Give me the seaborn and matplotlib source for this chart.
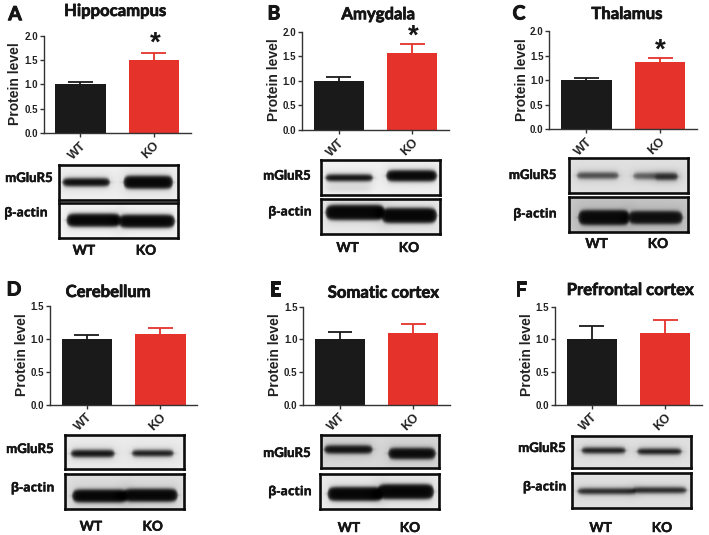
import numpy as np
import pandas as pd
import matplotlib
matplotlib.use("Agg")
import matplotlib.pyplot as plt
import matplotlib.patheffects as pe
from matplotlib.transforms import ScaledTranslation
import seaborn as sns

sns.set_theme(style="white")
plt.rcParams['font.family'] = ['Liberation Sans', 'DejaVu Sans']

W, H = 709, 535
groups = ["WT", "KO"]
regions = ["Hippocampus", "Amygdala", "Thalamus", "Cerebellum", "Somatic cortex", "Prefrontal cortex"]
letters = ["A", "B", "C", "D", "E", "F"]
wt_means = [1.0, 1.0, 1.0, 1.0, 1.0, 1.0]
ko_means = [1.5, 1.57, 1.37, 1.07, 1.09, 1.10]
wt_errs = [0.05, 0.08, 0.05, 0.06, 0.12, 0.20]
ko_errs = [0.15, 0.17, 0.08, 0.10, 0.14, 0.20]
y_maxes = [2.0, 2.0, 2.0, 1.5, 1.5, 1.5]
y_ticks_big = [0.0, 0.5, 1.0, 1.5, 2.0]
y_ticks_small = [0.0, 0.5, 1.0, 1.5]
significant = [True, True, True, False, False, False]

BLACK, RED, AXC = "#1b1a1a", "#e5332c", "#333333"
HEAD = ['Lato', 'DejaVu Sans']
CAP = 0.17

fig = plt.figure(figsize=(W / 100, H / 100), dpi=100, facecolor="white")


def axes_px(x0, y0, x1, y1, **kw):
    return fig.add_axes([x0 / W, 1 - y1 / H, (x1 - x0) / W, (y1 - y0) / H], **kw)


# pixel layout of each chart: left, top, right, baseline
frames = [(43.7, 35.7, 190.7, 133.3), (302, 31.7, 449, 130), (549.3, 31.3, 697, 129.3),
          (50, 306, 197.3, 404.7), (303.3, 306.7, 450, 404.7), (555, 306.7, 702, 404.7)]
ylab_x = [15.5, 274.5, 521.7, 22, 275, 527]

for i, frame in enumerate(frames):
    x0, top, x1, base = frame
    ax = axes_px(x0, top, x1, base)
    ax.patch.set_alpha(0)
    df = pd.DataFrame({"group": groups, "level": [wt_means[i], ko_means[i]]})
    sns.barplot(data=df, x="group", y="level", hue="group", palette=[BLACK, RED], hue_order=groups,
                width=0.685, saturation=1, errorbar=None, legend=False, ax=ax, linewidth=0)
    for k, (m, e, c) in enumerate([(wt_means[i], wt_errs[i], BLACK), (ko_means[i], ko_errs[i], RED)]):
        ax.vlines(k, m, m + e, color=c, linewidth=1.3, zorder=1)
        ax.hlines(m + e, k - CAP, k + CAP, color=c, linewidth=1.3, zorder=1)
    ax.set_xlim(-0.5, 1.5)
    ax.set_ylim(0, y_maxes[i])
    ax.set_yticks(y_ticks_big if y_maxes[i] == 2.0 else y_ticks_small)
    ax.set_yticklabels([f"{t:.1f}" for t in ax.get_yticks()], fontsize=7, fontweight="bold", color="#222222")
    ax.set_xticks([0, 1])
    ax.set_xticklabels(groups, rotation=45, ha="center", va="top",
                       fontsize=9, fontweight="bold", color="#222222")
    ax.tick_params(axis="both", length=3.2, width=1, color=AXC, pad=1, left=True, bottom=True)
    ax.tick_params(axis="x", pad=1.5)
    for lab in ax.get_xticklabels():
        lab.set_transform(lab.get_transform() + ScaledTranslation(-3 / 100, 0, fig.dpi_scale_trans))
    sns.despine(ax=ax)
    for s in ("left", "bottom"):
        ax.spines[s].set_color(AXC)
        ax.spines[s].set_linewidth(1)
    ax.set_xlabel("")
    ax.set_ylabel("")

overlay = axes_px(0, 0, W, H)
overlay.set_xlim(0, W)
overlay.set_ylim(H, 0)
overlay.axis("off")
overlay.patch.set_alpha(0)


def label(x, y, s, size=9.2, stroke=0.35, **kw):
    t = overlay.text(x, y, s, ha="center", va="center", fontsize=size, fontweight="bold",
                     family=kw.pop("family", HEAD), color="#151515", **kw)
    t.set_path_effects([pe.withStroke(linewidth=stroke, foreground="#151515")])


title_pos = [(115, 11), (378, 14.3), (626.7, 14), (108, 292), (383, 292.7), (630, 290)]
letter_pos = [(15, 14.7), (274, 14), (519, 14), (14, 290), (275, 290), (520.7, 290)]
mglu_pos = [(29, 178), (287, 175.7), (532.7, 175), (30, 449), (287, 453), (542, 448)]
actin_pos = [(26, 213), (290, 212), (535, 214), (32.7, 488), (290, 491.7), (544.7, 487)]
wt_pos = [(84, 250.7), (347.7, 248), (596.7, 244), (91, 526.7), (349, 528), (600.7, 528)]
ko_pos = [(146, 250.7), (409, 248), (658, 244), (152.7, 526.7), (410, 528), (662, 528)]
star_pos = [(155, 44), (413, 37), (660, 51)]

for i in range(6):
    label(*title_pos[i], regions[i], size=12, stroke=0.5)
    label(*letter_pos[i], letters[i], size=14, stroke=0.7)
    label(*mglu_pos[i], "mGluR5", size=9.5)
    label(*actin_pos[i], "β-actin", size=9, stroke=0.2, family=['Open Sans', 'DejaVu Sans'])
    label(*wt_pos[i], "WT", size=9.8)
    label(*ko_pos[i], "KO", size=9.8)
    overlay.text(ylab_x[i], frames[i][3] - 50, "Protein level", rotation=90, ha="center", va="center",
                 fontsize=10, fontweight="bold", color="#222222")
    if significant[i]:
        overlay.text(*star_pos[i], "*", ha="center", va="center", fontsize=20, fontweight="bold", color="#151515")


def blot(x0, y0, x1, y1, bg, bands):
    """Soft western-blot strip: bands are (xa, xb, yc, height, darkness) in figure pixels."""
    xs, ys = np.meshgrid(np.arange(x0, x1, 0.5), np.arange(y0, y1, 0.5))
    img = np.full(xs.shape, float(bg))
    for xa, xb, yc, h, d in bands:
        mid, half = (xa + xb) / 2, (xb - xa) / 2
        u = np.clip(np.abs(xs - mid) / half, 0, 1.3)
        hh = h / 2 * np.sqrt(np.clip(1 - u ** 10, 0, 1)) + 0.01
        core = 1 / (1 + np.exp((np.abs(ys - yc) - hh) / 1.0))
        core *= 1 / (1 + np.exp((np.abs(xs - mid) - half) / 1.2))
        halo = np.exp(-((ys - yc) / (h * 0.9 + 2)) ** 2) / (1 + np.exp((np.abs(xs - mid) - half - 2) / 3))
        img = img * (1 - d * core) - 0.08 * halo * (1 - core)
    a = axes_px(x0, y0, x1, y1)
    a.imshow(np.clip(img, 0, 1), cmap="gray", vmin=0, vmax=1, aspect="auto", interpolation="bilinear")
    a.set_xticks([])
    a.set_yticks([])
    a.grid(False)
    for s in a.spines.values():
        s.set_visible(True)
        s.set_linewidth(1.9)
        s.set_color("#0c0c0c")


blot(59, 165, 177.7, 200, 0.94, [(62, 110, 182, 8, .95), (123, 173, 182, 13, .97)])
blot(59, 203.3, 177.7, 237.7, 0.97, [(66, 121, 220, 13, .97), (118, 175, 221, 13, .97)])
blot(321, 159.7, 440, 195, 0.95, [(325, 373, 178, 6.5, .95), (385.7, 437, 176, 11, .97), (328, 368, 188.5, 2.5, .08)])
blot(321, 199, 440, 234.3, 0.93, [(325, 385, 213, 15, .97), (381, 437, 216, 15, .97)])
blot(569.3, 157.7, 688, 192.7, 0.88, [(576.7, 619, 175, 6, .68), (633, 678, 175.5, 6, .6), (655, 678, 176.5, 5, .6)])
blot(569.3, 196.7, 688, 231.7, 0.78, [(578, 630, 217, 15, .95), (628, 683, 217, 13, .93)])
blot(65.3, 435, 184, 469, 0.92, [(70.7, 115, 453.3, 7, .93), (131.7, 174, 453, 6, .9)])
blot(65.3, 474, 184, 508.7, 0.88, [(72, 128, 495.7, 13, .97), (123, 178, 495, 13, .97)])
blot(321.3, 435, 439.3, 468.3, 0.85, [(324, 373, 450, 8, .93), (388, 436, 454, 11, .95)])
blot(320, 474.3, 438.7, 509.3, 0.93, [(327, 383, 494, 14, .97), (377, 434, 491.7, 15, .97)])
blot(572, 436, 690.7, 468.3, 0.88, [(581, 625.7, 451, 5.5, .9), (636.7, 681.7, 452, 5.5, .9)])
blot(572, 473.3, 690.7, 507.7, 0.88, [(577, 636, 491, 5.5, .85), (632, 686.7, 490, 5.5, .85)])

fig.savefig("out.png", dpi=100, facecolor="white")
